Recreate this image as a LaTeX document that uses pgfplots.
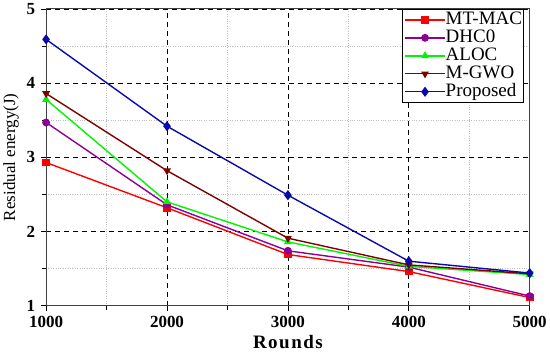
\documentclass[border=0pt]{standalone}
\usepackage{pgfplots}
\pgfplotsset{compat=1.18}
\usepackage{fontspec}
\setmainfont{Liberation Serif}
\definecolor{cMT}{RGB}{255,0,0}
\definecolor{cDH}{RGB}{140,0,150}
\definecolor{cAL}{RGB}{0,245,0}
\definecolor{cMG}{RGB}{128,0,0}
\definecolor{cPR}{RGB}{10,10,170}
\begin{document}
\begin{tikzpicture}
\begin{axis}[
  scale only axis,
  width=484bp, height=297bp,
  xmin=1000, xmax=5000, ymin=1, ymax=5,
  xtick={1000,2000,3000,4000,5000},
  ytick={1,2,3,4,5},
  minor x tick num=1, minor y tick num=1,
  /pgf/number format/assume math mode=true,
  /pgf/number format/1000 sep={},
  tick label style={font=\fontsize{17bp}{17bp}\selectfont\bfseries},
  yticklabel style={xshift=-2.5bp},
  xticklabel style={yshift=-1.5bp},
  tick align=outside,
  tick pos=left,
  major tick length=5bp, minor tick length=4bp,
  every tick/.style={black, line width=0.8pt},
  axis line style={line width=1pt, black!75},
  grid=both,
  major grid style={black, dashed, line width=0.7pt, dash pattern=on 5bp off 4bp},
  minor grid style={gray!50, dotted, line width=0.6pt},
  xlabel={\fontsize{19bp}{19bp}\selectfont\bfseries R\kern1.5pt o\kern1.5pt u\kern1.5pt n\kern1.5pt d\kern1.5pt s},
  ylabel={\fontsize{17bp}{17bp}\selectfont Residual energy(J)},
  xlabel style={yshift=-1.5bp},
  ylabel style={yshift=1bp},
  legend style={at={(rel axis cs:0.988,1)}, anchor=north east, draw=black, line width=0.8pt,
    font=\fontsize{19bp}{19bp}\selectfont, row sep=0pt, inner sep=1.5pt,
    nodes={inner sep=0pt, text height=14bp, text depth=4bp}, cells={anchor=west}},
  legend cell align=left,
  legend image code/.code={\draw[mark repeat=2,mark phase=2] plot coordinates {(0bp,0bp) (20bp,0bp) (40bp,0bp)};},
  every axis plot/.append style={line width=1.4pt, mark size=3.2pt},
]
\addplot[color=cMT, mark=square*] coordinates {(1000,2.93) (2000,2.32) (3000,1.69) (4000,1.46) (5000,1.11)};
\addlegendentry{MT-MAC}
\addplot[color=cDH, mark=*] coordinates {(1000,3.47) (2000,2.36) (3000,1.74) (4000,1.52) (5000,1.13)};
\addlegendentry{DHC0}
\addplot[color=cAL, mark=triangle*] coordinates {(1000,3.78) (2000,2.40) (3000,1.86) (4000,1.53) (5000,1.42)};
\addlegendentry{ALOC}
\addplot[color=cMG, mark=triangle*, mark options={rotate=180}] coordinates {(1000,3.86) (2000,2.82) (3000,1.91) (4000,1.55) (5000,1.43)};
\addlegendentry{M-GWO}
\addplot[color=cPR, mark=diamond*, mark size=4pt] coordinates {(1000,4.59) (2000,3.42) (3000,2.49) (4000,1.60) (5000,1.44)};
\addlegendentry{Proposed}
\end{axis}
\end{tikzpicture}
\end{document}
